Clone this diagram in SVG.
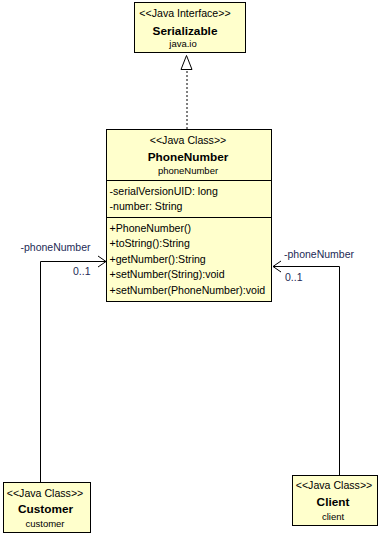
<svg xmlns="http://www.w3.org/2000/svg" width="382" height="537" viewBox="0 0 382 537">
  <style>
    .box { fill: #ffffcc; stroke: #000; stroke-width: 1; }
    .sep { stroke: #000; stroke-width: 1; }
    text { font-family: "Liberation Sans", Arial, sans-serif; fill: #000; }
    .st { font-size: 10.6px; text-anchor: middle; }
    .nm { font-size: 11.8px; font-weight: bold; text-anchor: middle; }
    .pk { font-size: 9.5px; text-anchor: middle; }
    .mb { font-size: 10.6px; }
    .lbl { font-size: 10.5px; fill: #1c2a55; }
    .edge { fill: none; stroke: #000; stroke-width: 1; }
  </style>
  <rect width="382" height="537" fill="#ffffff"/>

  <g id="connectors">
    <!-- realization: PhoneNumber implements Serializable -->
    <line class="edge" x1="187" y1="129" x2="187" y2="69.5" stroke-dasharray="2,2"/>
    <polygon points="186.5,55.5 181,69.5 192,69.5" fill="#ffffff" stroke="#000" stroke-width="1"/>
    <!-- Customer -> PhoneNumber association -->
    <polyline class="edge" points="40.5,482 40.5,261.5 106,261.5"/>
    <polyline class="edge" points="98,256 106,261.5 98,267"/>
    <text class="lbl" x="20.5" y="251">-phoneNumber</text>
    <text class="lbl" x="73" y="275">0..1</text>
    <!-- Client -> PhoneNumber association -->
    <polyline class="edge" points="339.5,475 339.5,266.5 273,266.5"/>
    <polyline class="edge" points="281,261 273,266.5 281,272"/>
    <text class="lbl" x="284" y="258">-phoneNumber</text>
    <text class="lbl" x="285" y="281">0..1</text>
  </g>

  <g id="serializable">
    <rect class="box" x="134.5" y="2.5" width="111" height="50"/>
    <text class="st" x="185" y="17">&lt;&lt;Java Interface&gt;&gt;</text>
    <text class="nm" x="185" y="34.5">Serializable</text>
    <text class="pk" x="183" y="47">java.io</text>
  </g>

  <g id="phoneNumber">
    <rect class="box" x="106.5" y="129.5" width="165" height="172"/>
    <text class="st" x="188" y="143.5">&lt;&lt;Java Class&gt;&gt;</text>
    <text class="nm" x="188" y="160.5">PhoneNumber</text>
    <text class="pk" x="188" y="174">phoneNumber</text>
    <line class="sep" x1="106.5" y1="180.5" x2="271.5" y2="180.5"/>
    <text class="mb" x="109.5" y="194.5">-serialVersionUID: long</text>
    <text class="mb" x="109.5" y="210">-number: String</text>
    <line class="sep" x1="106.5" y1="217.5" x2="271.5" y2="217.5"/>
    <text class="mb" x="109.5" y="231.5">+PhoneNumber()</text>
    <text class="mb" x="109.5" y="247.1">+toString():String</text>
    <text class="mb" x="109.5" y="262.7">+getNumber():String</text>
    <text class="mb" x="109.5" y="278.3">+setNumber(String):void</text>
    <text class="mb" x="109.5" y="294">+setNumber(PhoneNumber):void</text>
  </g>

  <g id="customer">
    <rect class="box" x="3.5" y="482.5" width="87" height="50"/>
    <text class="st" x="45" y="497">&lt;&lt;Java Class&gt;&gt;</text>
    <text class="nm" x="45.5" y="513">Customer</text>
    <text class="pk" x="45" y="527">customer</text>
  </g>

  <g id="client">
    <rect class="box" x="292.5" y="475.5" width="85" height="50"/>
    <text class="st" x="334" y="489">&lt;&lt;Java Class&gt;&gt;</text>
    <text class="nm" x="333" y="506">Client</text>
    <text class="pk" x="333" y="520">client</text>
  </g>
</svg>
